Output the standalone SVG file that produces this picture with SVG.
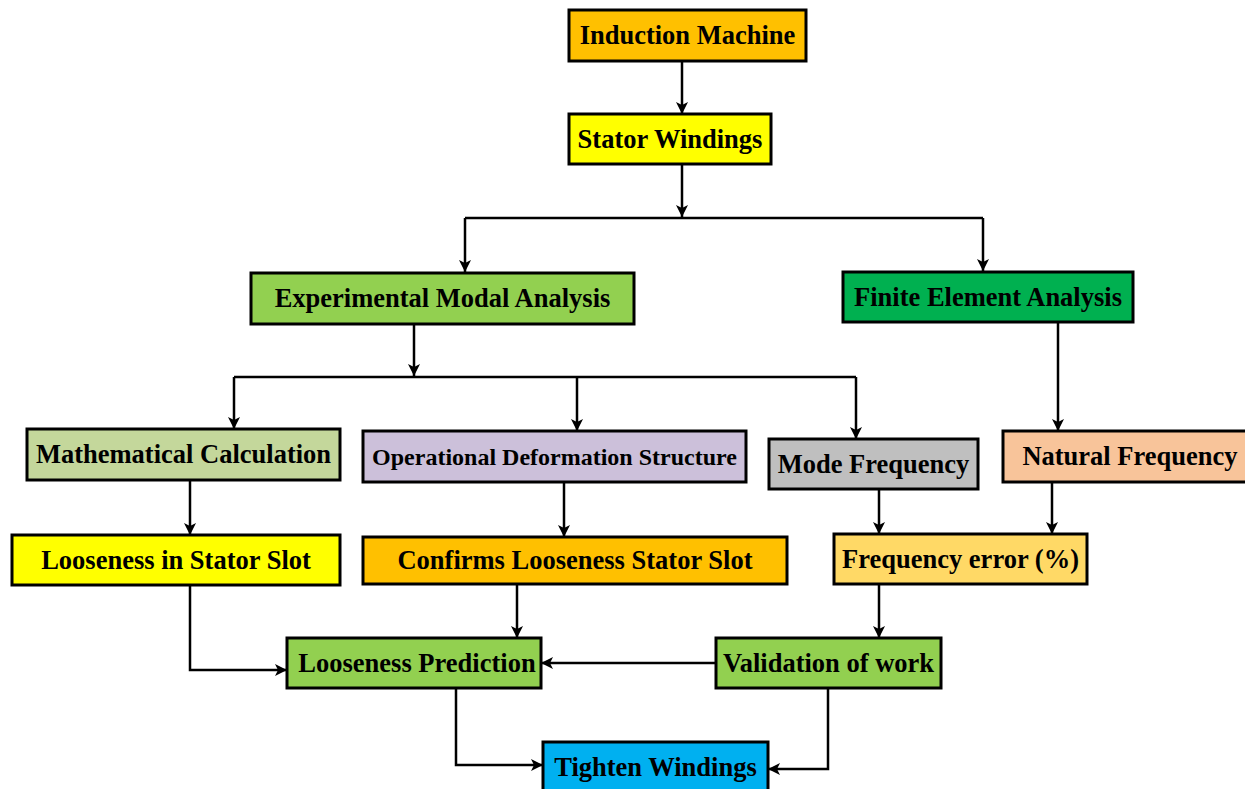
<svg xmlns="http://www.w3.org/2000/svg" width="1245" height="789" viewBox="0 0 1245 789">
<defs>
<marker id="ah" markerUnits="userSpaceOnUse" markerWidth="14" markerHeight="14" viewBox="0 0 14 14" refX="13" refY="7" orient="auto">
<path d="M1,1 L13,7 L1,13 L4,7 Z" fill="#000"/>
</marker>
<style>
.box{stroke:#000;stroke-width:3}
.t{font-family:"Liberation Serif","Times New Roman",serif;font-weight:bold;font-size:26.5px;fill:#000;text-anchor:middle}
.s{font-size:24px}
.c{fill:none;stroke:#000;stroke-width:2.5}
.a{marker-end:url(#ah)}
</style>
</defs>
<rect width="1245" height="789" fill="#fff"/>
<g id="connectors">
<path class="c a" d="M682,61 V114"/>
<path class="c a" d="M682,164 V217"/>
<path class="c" d="M465,218 H983"/>
<path class="c a" d="M465,218 V272"/>
<path class="c a" d="M983,218 V271"/>
<path class="c a" d="M414,324 V376"/>
<path class="c" d="M234,377 H856"/>
<path class="c a" d="M234,377 V429"/>
<path class="c a" d="M577,377 V431"/>
<path class="c a" d="M856,377 V439"/>
<path class="c a" d="M1058,322 V431"/>
<path class="c a" d="M190,480 V535"/>
<path class="c a" d="M564,482 V537"/>
<path class="c a" d="M879,489 V534"/>
<path class="c a" d="M1052,482 V534"/>
<path class="c a" d="M190,585 V670 H287"/>
<path class="c a" d="M517,584 V638"/>
<path class="c a" d="M879,584 V638"/>
<path class="c a" d="M716,663 H541"/>
<path class="c a" d="M456,688 V765 H543"/>
<path class="c a" d="M828,688 V769 H768"/>
</g>
<g id="induction-machine"><rect class="box" x="569" y="10" width="237" height="51" fill="#FFC000"/><text class="t" x="687.5" y="44">Induction Machine</text></g>
<g id="stator-windings"><rect class="box" x="569" y="114" width="202" height="50" fill="#FFFF00"/><text class="t" x="670" y="148">Stator Windings</text></g>
<g id="experimental-modal-analysis"><rect class="box" x="251" y="273" width="383" height="51" fill="#92D050"/><text class="t" x="442.5" y="307">Experimental Modal Analysis</text></g>
<g id="finite-element-analysis"><rect class="box" x="843" y="272" width="290" height="50" fill="#00B050"/><text class="t" x="988" y="306">Finite Element Analysis</text></g>
<g id="mathematical-calculation"><rect class="box" x="27" y="429" width="313" height="51" fill="#C4D79B"/><text class="t" x="183.5" y="463">Mathematical Calculation</text></g>
<g id="operational-deformation-structure"><rect class="box" x="363" y="431" width="383" height="51" fill="#CCC0DA"/><text class="t s" x="554.5" y="465">Operational Deformation Structure</text></g>
<g id="mode-frequency"><rect class="box" x="769" y="439" width="209" height="50" fill="#BFBFBF"/><text class="t" x="873.5" y="473">Mode Frequency</text></g>
<g id="natural-frequency"><rect class="box" x="1003" y="431" width="254" height="51" fill="#F8C49A"/><text class="t" x="1130" y="465">Natural Frequency</text></g>
<g id="looseness-in-stator-slot"><rect class="box" x="12" y="535" width="328" height="50" fill="#FFFF00"/><text class="t" x="176" y="569">Looseness in Stator Slot</text></g>
<g id="confirms-looseness-stator-slot"><rect class="box" x="363" y="537" width="424" height="47" fill="#FFC000"/><text class="t" x="575" y="569">Confirms Looseness Stator Slot</text></g>
<g id="frequency-error"><rect class="box" x="834" y="534" width="253" height="50" fill="#FFD966"/><text class="t" x="960.5" y="568">Frequency error (%)</text></g>
<g id="looseness-prediction"><rect class="box" x="287" y="638" width="254" height="50" fill="#92D050"/><text class="t" x="417" y="672">Looseness Prediction</text></g>
<g id="validation-of-work"><rect class="box" x="716" y="638" width="225" height="50" fill="#92D050"/><text class="t" x="828.5" y="672">Validation of work</text></g>
<g id="tighten-windings"><rect class="box" x="543" y="742" width="225" height="52" fill="#00B0F0"/><text class="t" x="655.5" y="776">Tighten Windings</text></g>
</svg>
